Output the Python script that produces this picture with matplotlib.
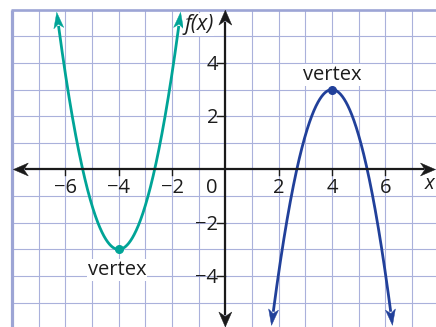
import numpy as np
import matplotlib
matplotlib.use("Agg")
import matplotlib.pyplot as plt
from matplotlib.patches import Polygon

plt.rcParams['font.family'] = ['Open Sans', 'DejaVu Sans']

# ---- data ----
teal_vertex = (-4.0, -3.0)
teal_a = 1.65
teal_tip_y = 5.9
blue_vertex = (4.0, 3.0)
blue_a = -1.72
blue_tip_y = -5.85
x_ticks = [-6, -4, -2, 2, 4, 6]
y_ticks = [-4, -2, 2, 4]
x_grid = list(range(-8, 8))
y_grid = list(range(-5, 7))
x_labels = ["\u22126", "\u22124", "\u22122", "2", "4", "6"]
y_labels = ["\u22124", "\u22122", "2", "4"]

# ---- layout ----
W, H, DPI = 436, 327, 100
X_MIN, X_MAX = -8.45, 7.90
Y_MIN, Y_MAX = -5.91, 6.36
GRID_C = '#aab1db'
BORDER_C = '#9da5d5'
TEAL = '#00a497'
BLUE = '#21409a'
AX_C = '#1a1a1a'
TXT_C = '#1c1c1c'

fig = plt.figure(figsize=(W / DPI, H / DPI), dpi=DPI)
ax = fig.add_axes([0, 0, 1, 1])
ax.set_xlim(X_MIN, X_MAX)
ax.set_ylim(Y_MIN, Y_MAX)
ax.axis('off')
ppu_x = W / (X_MAX - X_MIN)
ppu_y = H / (Y_MAX - Y_MIN)

# grid
for gx in x_grid:
    ax.plot([gx, gx], [Y_MIN, y_grid[-1]], color=GRID_C, lw=0.8, zorder=1)
for gy in y_grid:
    ax.plot([x_grid[0], X_MAX], [gy, gy], color=GRID_C, lw=0.8, zorder=1)
ax.plot([x_grid[0], x_grid[0]], [Y_MIN, y_grid[-1]], color=BORDER_C, lw=2.3, zorder=1.5,
        solid_capstyle='butt')
ax.plot([x_grid[0] - 0.04, X_MAX], [y_grid[-1], y_grid[-1]], color=BORDER_C, lw=1.9, zorder=1.5,
        solid_capstyle='butt')


def arrowhead(tip, d, length_px, width_px, color, notch=0.3, z=5):
    dx, dy = d[0] * ppu_x, d[1] * ppu_y
    n = np.hypot(dx, dy)
    ux, uy = dx / n, dy / n
    px, py = -uy, ux
    tx, ty = tip
    pts_px = [(0, 0),
              (-length_px * ux + width_px / 2 * px, -length_px * uy + width_px / 2 * py),
              (-length_px * (1 - notch) * ux, -length_px * (1 - notch) * uy),
              (-length_px * ux - width_px / 2 * px, -length_px * uy - width_px / 2 * py)]
    pts = [(tx + a / ppu_x, ty + b / ppu_y) for a, b in pts_px]
    ax.add_patch(Polygon(pts, closed=True, facecolor=color, edgecolor=color, lw=0.3, zorder=z))
    return (tx - length_px * (1 - notch * 0.5) * ux / ppu_x,
            ty - length_px * (1 - notch * 0.5) * uy / ppu_y)


# axes with arrows
x_left_tip, x_right_tip = -7.95, 7.88
y_top_tip, y_bot_tip = 5.98, -5.91
bl = arrowhead((x_left_tip, 0), (-1, 0), 15, 13, AX_C, 0.3, 6)
br = arrowhead((x_right_tip, 0), (1, 0), 15, 13, AX_C, 0.3, 6)
ax.plot([bl[0], br[0]], [0, 0], color=AX_C, lw=1.6, zorder=5)
bt = arrowhead((0, y_top_tip), (0, 1), 15, 13, AX_C, 0.3, 6)
bb = arrowhead((0, y_bot_tip), (0, -1), 15, 13, AX_C, 0.3, 6)
ax.plot([0, 0], [bb[1], bt[1]], color=AX_C, lw=1.6, zorder=5)

# ticks
for t in x_ticks:
    ax.plot([t, t], [0, -0.22], color=AX_C, lw=1.0, zorder=5)
for t in y_ticks:
    ax.plot([-0.3, 0], [t, t], color=AX_C, lw=1.0, zorder=5)

FS = 14.5
for t, lab in zip(x_ticks, x_labels):
    ax.text(t, -0.9, lab, ha='center', va='baseline', fontsize=FS, color=TXT_C, zorder=7)
ax.text(-0.51, -0.9, "0", ha='center', va='baseline', fontsize=FS, color=TXT_C, zorder=7)
for t, lab in zip(y_ticks, y_labels):
    ax.text(-0.27, t - 0.26, lab, ha='right', va='baseline', fontsize=FS, color=TXT_C, zorder=7)
ax.text(7.66, -0.75, "x", ha='center', va='baseline', fontsize=FS, style='italic',
        color=TXT_C, zorder=7)
ax.text(-0.45, 5.25, "f(x)", ha='right', va='baseline', fontsize=15.5, style='italic',
        color=TXT_C, zorder=7,
        bbox=dict(boxstyle='square,pad=0.05', fc='white', ec='none'))


def parabola(vertex, a, tip_y, color):
    h, k = vertex
    half = np.sqrt((tip_y - k) / a)
    xl, xr = h - half, h + half
    slope = abs(2 * a * half)
    sgn = 1 if a > 0 else -1
    bl_ = arrowhead((xl, tip_y), (-1, slope * sgn), 16, 10, color, 0.25, 4)
    br_ = arrowhead((xr, tip_y), (1, slope * sgn), 16, 10, color, 0.25, 4)
    xs = np.linspace(bl_[0], br_[0], 400)
    ys = a * (xs - h) ** 2 + k
    ax.plot(xs, ys, color=color, lw=2.0, zorder=3, solid_capstyle='butt')
    ax.plot([h], [k], 'o', color=color, ms=5.5, zorder=4)


parabola(teal_vertex, teal_a, teal_tip_y, TEAL)
parabola(blue_vertex, blue_a, blue_tip_y, BLUE)

ax.text(4.0, 3.36, "vertex", ha='center', va='baseline', fontsize=FS, color=TXT_C, zorder=7,
        bbox=dict(boxstyle='square,pad=0.05', fc='white', ec='none'))
ax.text(-4.07, -3.96, "vertex", ha='center', va='baseline', fontsize=FS, color=TXT_C, zorder=7,
        bbox=dict(boxstyle='square,pad=0.05', fc='white', ec='none'))

fig.savefig("out.png", dpi=DPI)
